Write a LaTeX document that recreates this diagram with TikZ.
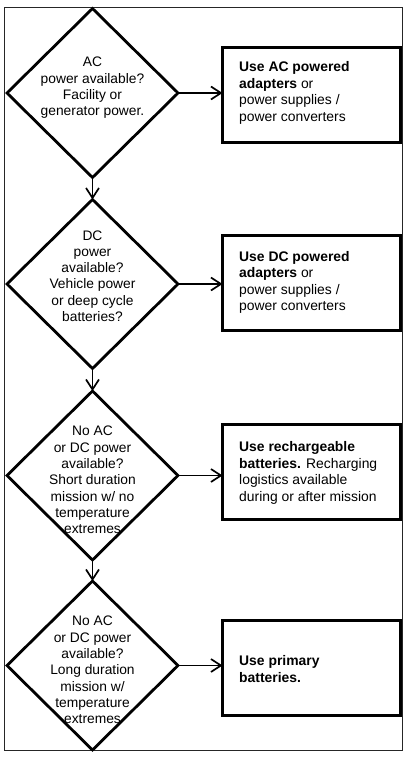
\documentclass[tikz,border=0pt]{standalone}
\usepackage{fontspec}
\setmainfont{Liberation Sans}
\usetikzlibrary{shapes.geometric,arrows.meta}
\begin{document}
\begin{tikzpicture}[x=1pt,y=-1pt,
  dec/.style={diamond,draw,line width=2.8pt,minimum width=171pt,minimum height=169pt,inner sep=0pt,outer sep=0pt},
  dtext/.style={align=center,font=\fontsize{13.8}{16.3}\selectfont,inner sep=0pt},
  res/.style={draw,line width=3pt,minimum width=178pt,minimum height=95pt,inner sep=0pt,outer sep=0pt},
  btext/.style={align=left,anchor=west,font=\fontsize{13.9}{16.6}\selectfont,inner sep=0pt},
  conn/.style={line width=1.7pt,-{Straight Barb[length=10pt,width=13pt,line width=1.7pt]}}]
\useasboundingbox (0,0) rectangle (407,760);
\draw[line width=0.9pt,black!85] (4.5,7) rectangle (402.5,750);
% decisions
\node[dec] (d1) at (92.5,93) {};
\node[dec] (d2) at (92.5,284) {};
\node[dec] (d3) at (92.5,475.5) {};
\node[dec] (d4) at (92.5,665.5) {};
\node[dtext] (t1) at (92.5,88) {AC\\power available?\\Facility or\\generator power.};
\node[dtext] (t2) at (92.5,276) {DC\\power\\available?\\Vehicle power\\or deep cycle\\batteries?};
\node[dtext] (t3) at (92.5,480) {No AC\\or DC power\\available?\\Short duration\\mission w/ no\\temperature\\extremes};
\node[dtext] (t4) at (92.5,670) {No AC\\or DC power\\available?\\Long duration\\mission w/\\temperature\\extremes};
% results
\node[res] (b1) at (311.5,95) {};
\node[res] (b2) at (311.5,283) {};
\node[res] (b3) at (311.5,472) {};
\node[res] (b4) at (311.5,667.5) {};
\node[btext] (u1) at (239,93) {\textbf{Use AC powered}\\\textbf{adapters} or\\power supplies /\\power converters};
\node[btext] (u2) at (239,282.5) {\textbf{Use DC powered}\\\textbf{adapters} or\\power supplies /\\power converters};
\node[btext] (u3) at (239,473) {\textbf{Use rechargeable}\\\textbf{batteries.} Recharging\\logistics available\\during or after mission};
\node[btext] (u4) at (239,669) {\textbf{Use primary}\\\textbf{batteries.}};
% connectors
\draw[conn] (d1.east) -- (d1.east -| b1.west);
\draw[conn] (d2.east) -- (d2.east -| b2.west);
\draw[conn] (d3.east) -- (d3.east -| b3.west);
\draw[conn] (d4.east) -- (d4.east -| b4.west);
\draw[conn] (d1.south) -- (d2.north);
\draw[conn] (d2.south) -- (d3.north);
\draw[conn] (d3.south) -- (d4.north);
\end{tikzpicture}
\end{document}
